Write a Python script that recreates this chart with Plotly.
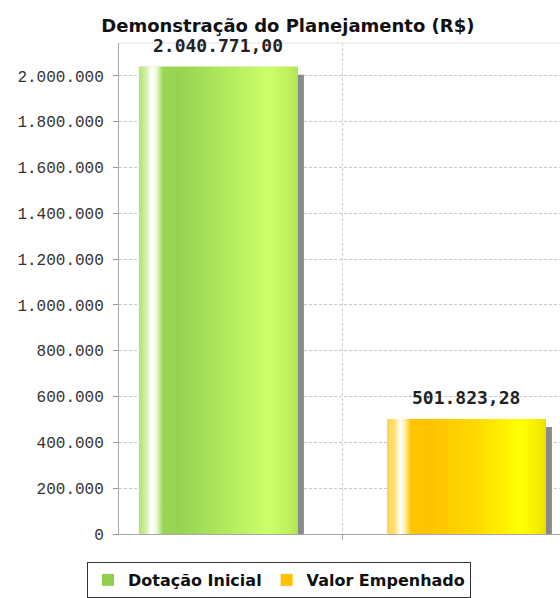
import plotly.graph_objects as go

# ---- data ----
series = ["Dotação Inicial", "Valor Empenhado"]
values = [2040771.00, 501823.28]
title_text = "Demonstração do Planejamento (R$)"
y_ticks = [0, 200000, 400000, 600000, 800000, 1000000, 1200000, 1400000,
           1600000, 1800000, 2000000]

# ---- style ----
solid_colors = ["#8FD14F", "#FFC000"]
gradients = [
    [[0.0, "#B2E272"], [0.05, "#D6F3AE"], [0.075, "#FFFFFF"], [0.11, "#EEFADD"],
     [0.15, "#9AD655"], [0.25, "#96D351"], [0.55, "#B2EA5E"], [0.82, "#CCFF6A"],
     [0.94, "#BEF05C"], [1.0, "#B0E452"]],
    [[0.0, "#FFD44C"], [0.05, "#FFE27A"], [0.085, "#FFFFFF"], [0.11, "#FFF0B8"],
     [0.15, "#FFC600"], [0.25, "#FFC200"], [0.55, "#FFD800"], [0.84, "#FFFF00"],
     [0.95, "#F6EC00"], [1.0, "#EEDC00"]],
]
bar_w = 0.641
shadow_dx = 0.024
shadow_dy = 35000

fig = go.Figure()

for i, (name, v) in enumerate(zip(series, values)):
    fig.add_trace(go.Bar(x=[i + shadow_dx], y=[v - shadow_dy], width=bar_w,
                         marker=dict(color="#8A8A8A", line=dict(width=0)),
                         showlegend=False, hoverinfo="skip"))
    fig.add_trace(go.Bar(x=[i], y=[v], width=bar_w, name=name,
                         marker=dict(color=solid_colors[i], line=dict(width=0))))

for i, v in enumerate(values):
    x0, x1 = i - bar_w / 2, i + bar_w / 2
    fig.add_trace(go.Scatter(
        x=[x0, x1, x1, x0, x0], y=[0, 0, v, v, 0], mode="lines",
        line=dict(width=0), fill="toself",
        fillgradient=dict(type="horizontal", colorscale=gradients[i],
                          start=x0, stop=x1),
        showlegend=False, hoverinfo="skip"))

for i, v in enumerate(values):
    label = f"{v:,.2f}".replace(",", "X").replace(".", ",").replace("X", ".")
    fig.add_annotation(x=i, y=v, text=label,
                       showarrow=False, yanchor="bottom", yshift=9,
                       font=dict(family="DejaVu Sans Mono", size=18, color="#222",
                                 weight="bold"))

fig.update_layout(
    width=560, height=598,
    margin=dict(l=119, r=0, t=43, b=64, autoexpand=False),
    paper_bgcolor="white", plot_bgcolor="white",
    barmode="overlay",
    separators=",.",
    title=dict(text=title_text, x=0.514, xanchor="center", y=1 - 26 / 598,
               yanchor="middle", yref="container", automargin=False,
               font=dict(family="DejaVu Sans", size=18,
                         color="#111", weight="bold")),
    showlegend=True,
    legend=dict(orientation="h", x=-0.0726, xanchor="left", y=-0.057,
                yanchor="top", bordercolor="#333", borderwidth=1,
                font=dict(family="DejaVu Sans", size=16,
                          color="#111", weight="bold"),
                itemsizing="constant", traceorder="normal"),
    xaxis=dict(range=[-0.401, 1.377], tickvals=[0.5], ticktext=[""],
               ticks="outside", ticklen=5, tickcolor="#AAA", automargin=False,
               showgrid=True, gridcolor="#D0D0D0", griddash="3px,2px", gridwidth=1,
               showline=True, linecolor="#A8A8A8", linewidth=1,
               zeroline=False, fixedrange=True),
    yaxis=dict(range=[0, 2144000], tickvals=y_ticks, tickformat=",d",
               ticks="outside", ticklen=5, tickcolor="#999", automargin=False,
               ticklabelstandoff=6,
               tickfont=dict(family="Liberation Mono", size=16, color="#333"),
               showgrid=True, gridcolor="#C8C8C8", griddash="3px,2px", gridwidth=1,
               showline=True, linecolor="#A8A8A8", linewidth=1,
               mirror=False, zeroline=False),
    shapes=[dict(type="line", xref="paper", yref="paper", x0=0, x1=1, y0=1, y1=1,
                 line=dict(color="#E0E0E0", width=1))],
)

fig.write_html("out.html",
               config={"displayModeBar": False},
               post_script="document.body.style.margin='0';"
                           "document.body.style.overflow='hidden';")
